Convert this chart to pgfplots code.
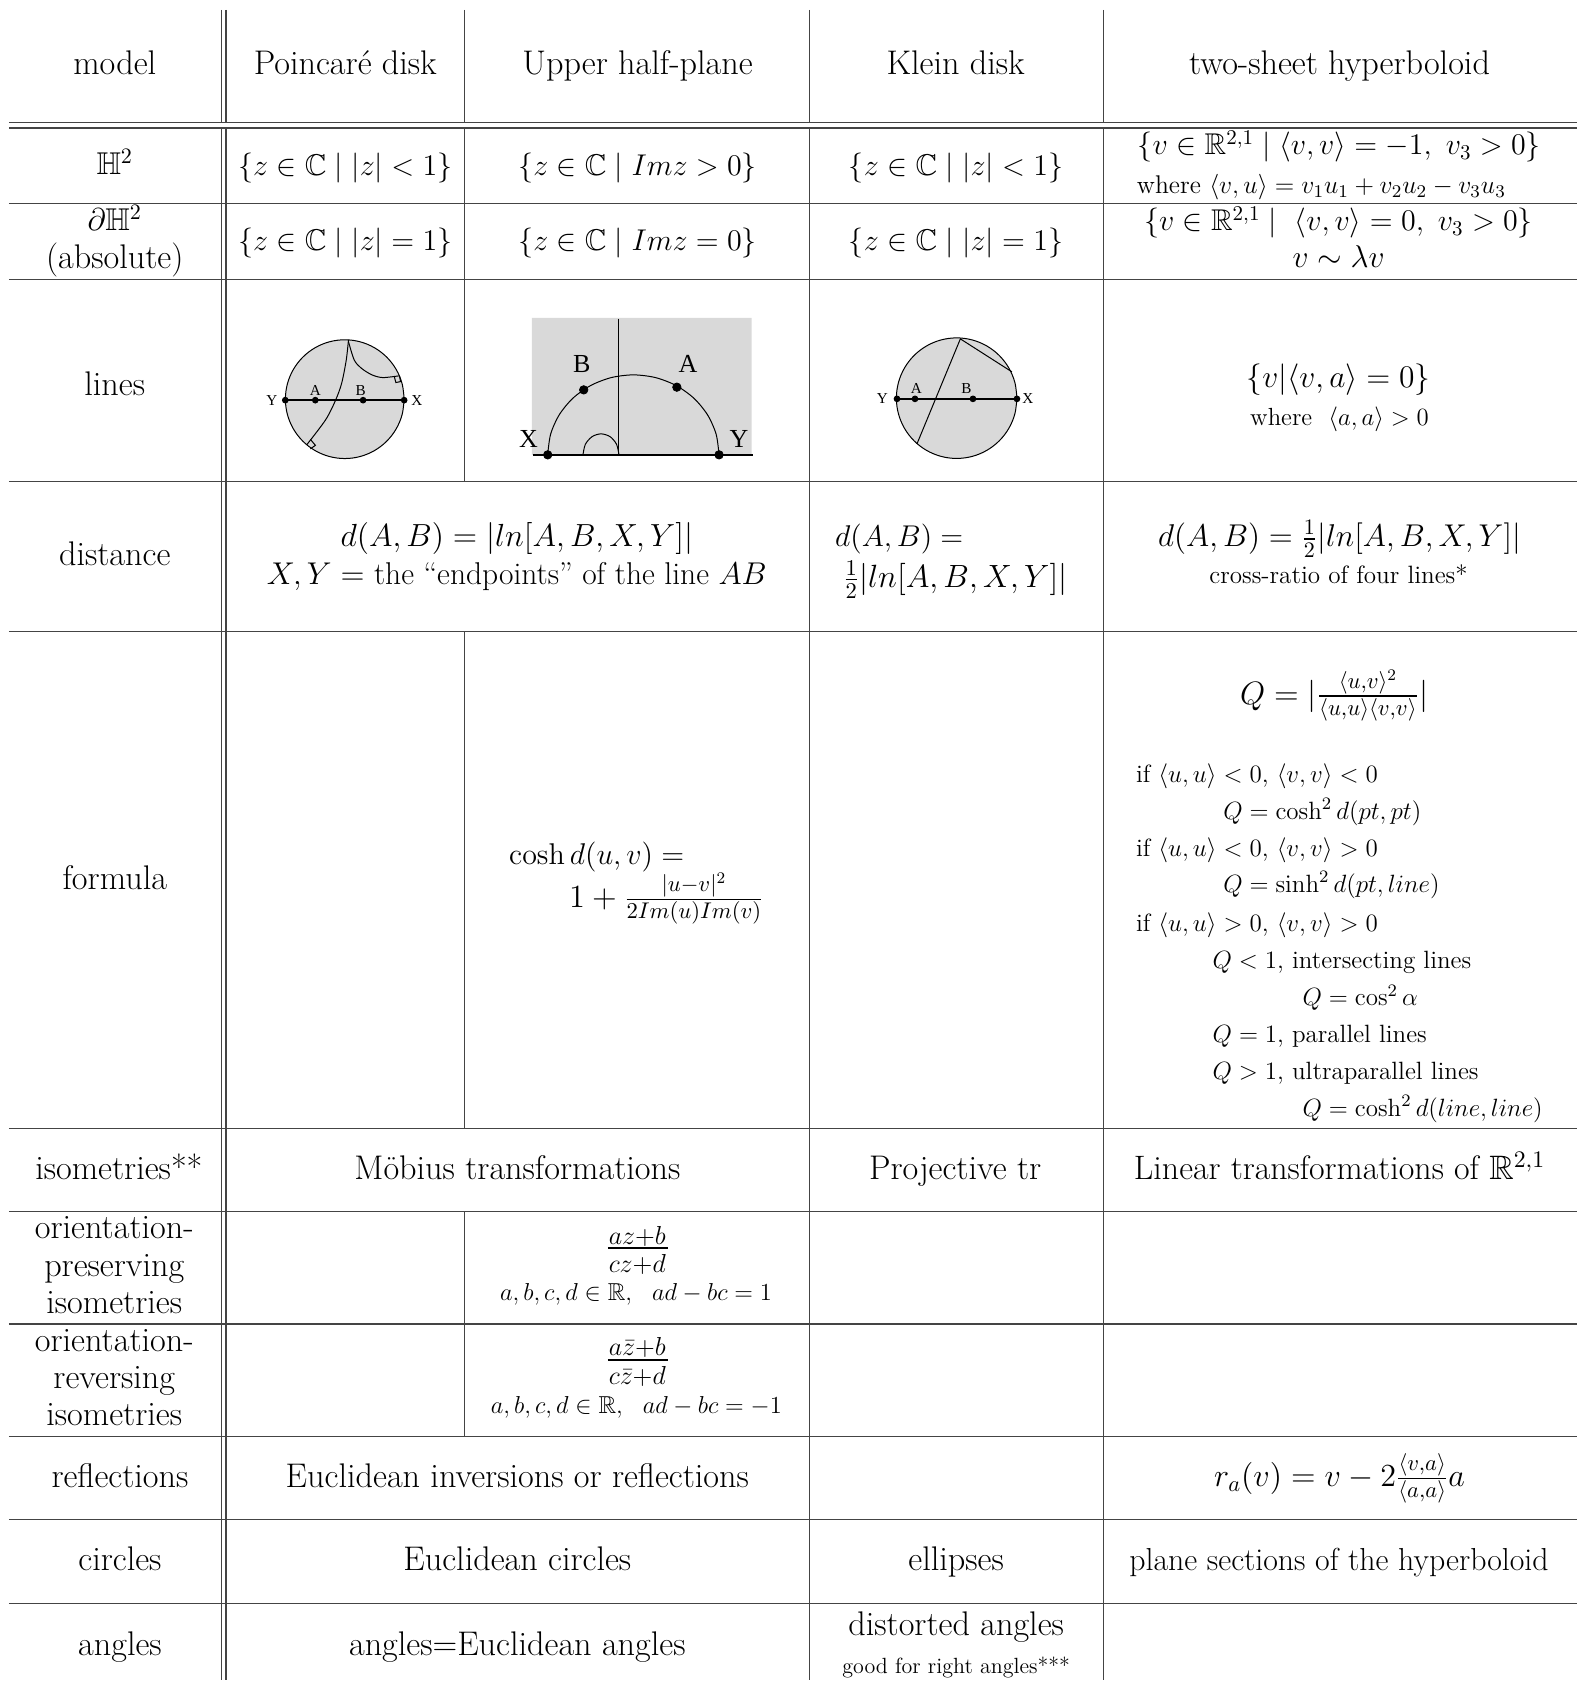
\documentclass[border=0pt]{standalone}
\usepackage{fix-cm}
\usepackage{amsmath,amssymb}
\usepackage[no-math]{fontspec}
\usepackage{pgfplots}
\pgfplotsset{compat=1.18}
\newfontfamily\labfont{Liberation Serif}
\definecolor{diskgray}{HTML}{D9D9D9}
\definecolor{rulecol}{HTML}{444444}
\newcommand{\sz}[1]{\fontsize{#1}{1.2em}\selectfont}
\newcommand{\fm}{\sz{17.1}}
\newcommand{\fx}{\sz{15.75}}
\newcommand{\fa}{\sz{15}}
\newcommand{\fs}{\sz{12.5}}
\newcommand{\ft}{\sz{11}}
\newcommand{\la}{\labfont\sz{7.6}}
\newcommand{\lb}{\labfont\sz{13}}
% centred text at a baseline, and left aligned text
\newcommand{\C}[4][\fm]{\node[anchor=base,inner sep=0pt,yshift=-0.5pt,font=#1] at (axis cs:#2,#3) {#4};}
\newcommand{\Lf}[4][\fs]{\node[anchor=base west,inner sep=0pt,font=#1] at (axis cs:#2,#3) {#4};}
\begin{document}
\begin{tikzpicture}
\begin{axis}[
    width=789pt, height=840.5pt, scale only axis,
    xmin=0, xmax=1578, ymin=0, ymax=1681,
    y dir=reverse, axis lines=none, clip=false,
    unbounded coords=jump,
    rule/.style={rulecol, line width=0.6pt, forget plot},
    thin line/.style={black, line width=0.5pt, forget plot},
]
\addplot[draw=none, forget plot] coordinates {(0,0) (1578,1681)};

% horizontal rules
\addplot[rule] coordinates {
    (9,122.5)(1578,122.5) (0,nan)
    (9,128)(1578,128) (0,nan)
    (9,203.5)(1578,203.5) (0,nan)
    (9,279.3)(1578,279.3) (0,nan)
    (9,481.5)(1578,481.5) (0,nan)
    (9,631.5)(1578,631.5) (0,nan)
    (9,1128.5)(1578,1128.5) (0,nan)
    (9,1212)(1578,1212) (0,nan)
    (9,1324.5)(1578,1324.5) (0,nan)
    (9,1437)(1578,1437) (0,nan)
    (9,1520)(1578,1520) (0,nan)
    (9,1604)(1578,1604)
};
% vertical rules
\addplot[rule] coordinates {
    (221.5,10)(221.5,122.5) (0,nan)
    (226,10)(226,122.5) (0,nan)
    (221.5,128)(221.5,1681) (0,nan)
    (226,128)(226,1681) (0,nan)
    (465,10)(465,122.5) (0,nan)
    (465,128)(465,481.5) (0,nan)
    (465,631.5)(465,1128.5) (0,nan)
    (465,1212)(465,1437) (0,nan)
    (809.5,10)(809.5,122.5) (0,nan)
    (809.5,128)(809.5,1681) (0,nan)
    (1103.5,10)(1103.5,122.5) (0,nan)
    (1103.5,128)(1103.5,1681)
};

% Poincare disk
\addplot[thin line, fill=diskgray, smooth, tension=0.6] coordinates {
    (404.3,399.3)(402.28,414.67)(396.34,429)(386.9,441.3)(374.6,450.74)(360.27,456.68)
    (344.9,458.7)(329.53,456.68)(315.2,450.74)(302.9,441.3)(293.46,429)(287.52,414.67)
    (285.5,399.3)(287.52,383.93)(293.46,369.6)(302.9,357.3)(315.2,347.86)(329.53,341.92)
    (344.9,339.9)(360.27,341.92)(374.6,347.86)(386.9,357.3)(396.34,369.6)(402.28,383.93)
    (404.3,399.3)
};
\addplot[thin line, smooth] coordinates {(348.6,340)(346.4,360)(341.8,383.3)(335.7,400.3)(325.7,420)(306.8,445)};
\addplot[thin line, smooth] coordinates {(348.6,341.7)(354.3,360)(361.4,368.3)(372.1,375)(382.9,377.7)(398.9,376)};
\addplot[thin line] coordinates {(394.6,377.3)(396,382.7)(400.7,381.7)(399.6,376)};
\addplot[thin line] coordinates {(310.5,439.5)(315.5,445.5)(310.5,449)};
\addplot[black, line width=0.7pt, mark=*, mark size=1.3pt, forget plot] coordinates {(285.4,400.3)(315.4,400.3)(363.2,400.3)(404.3,400.3)};
\C[\la]{272}{405}{Y}
\C[\la]{315.5}{394.5}{A}
\C[\la]{360.7}{394.5}{B}
\C[\la]{417}{405}{X}

% upper half-plane
\addplot[draw=none, fill=diskgray, forget plot] coordinates {(532,318)(752,318)(752,455)(532,455)(532,318)};
\addplot[thin line] coordinates {(619.2,319)(619.2,455)};
\addplot[black, line width=0.8pt, forget plot] coordinates {(533.6,455)(753,455)};
\addplot[thin line, smooth] coordinates {
    (547.9,455)(550.82,434.3)(559.4,415)(573,398.43)(590.75,385.72)(611.42,377.73)(633.6,375)
    (655.78,377.73)(676.45,385.72)(694.2,398.43)(707.8,415)(716.38,434.3)(719.3,455)
};
\addplot[thin line, smooth] coordinates {(583.2,455)(585.54,444.5)(592.3,436.8)(601.2,434)(610.3,436.8)(616.8,444.5)(619.2,455)};
\addplot[only marks, mark=*, mark size=2.1pt, black, forget plot] coordinates {(547.9,455)(719.3,455)(583.9,390)(677.1,387.3)};
\C[\lb]{582}{372}{B}
\C[\lb]{688.2}{372}{A}
\C[\lb]{528.6}{447}{X}
\C[\lb]{739.3}{447}{Y}

% Klein disk
\addplot[thin line, fill=diskgray, smooth, tension=0.6] coordinates {
    (1017.3,398.3)(1015.24,413.91)(1009.22,428.45)(999.64,440.94)(987.15,450.52)(972.61,456.54)
    (957,458.6)(941.39,456.54)(926.85,450.52)(914.36,440.94)(904.78,428.45)(898.76,413.91)
    (896.7,398.3)(898.76,382.69)(904.78,368.15)(914.36,355.66)(926.85,346.08)(941.39,340.06)
    (957,338)(972.61,340.06)(987.15,346.08)(999.64,355.66)(1009.22,368.15)(1015.24,382.69)
    (1017.3,398.3)
};
\addplot[thin line] coordinates {(917.3,444)(960.7,339)(1012.3,372)};
\addplot[black, line width=0.7pt, mark=*, mark size=1.3pt, forget plot] coordinates {(897.3,399)(915.3,399)(973.3,399)(1017.3,399)};
\C[\la]{882.7}{403}{Y}
\C[\la]{916.7}{393}{A}
\C[\la]{966.7}{393}{B}
\C[\la]{1028.3}{403}{X}

% header
\C{114.8}{74}{model}
\C{345.4}{74}{Poincar\'e disk}
\C{637.8}{74}{Upper half-plane}
\C{956}{74}{Klein disk}
\C{1340}{74}{two-sheet hyperboloid}

% H^2
\C[\fx]{114.8}{174}{$\mathbb{H}^2$}
\C[\fa]{345.4}{175}{$\{z\in\mathbb{C}\mid |z|<1\}$}
\C[\fa]{637.8}{175}{$\{z\in\mathbb{C}\mid Imz>0\}$}
\C[\fa]{956.3}{175}{$\{z\in\mathbb{C}\mid |z|<1\}$}
\C[\fa]{1339.7}{154}{$\{v\in\mathbb{R}^{2,1}\mid\langle v,v\rangle=-1,\ v_3>0\}$}
\C[\sz{12.8}]{1321.8}{192.7}{where $\langle v,u\rangle=v_1u_1+v_2u_2-v_3u_3$}

% absolute
\C[\fx]{114.8}{230}{$\partial\mathbb{H}^2$}
\C{114.8}{267.7}{(absolute)}
\C[\fa]{345.4}{249.5}{$\{z\in\mathbb{C}\mid |z|=1\}$}
\C[\fa]{637.8}{249.5}{$\{z\in\mathbb{C}\mid Imz=0\}$}
\C[\fa]{956.3}{249.5}{$\{z\in\mathbb{C}\mid |z|=1\}$}
\C[\fa]{1339}{230}{$\{v\in\mathbb{R}^{2,1}\mid\ \langle v,v\rangle=0,\ v_3>0\}$}
\C[\fx]{1339}{266.7}{$v\sim\lambda v$}

% lines
\C{114.8}{395}{lines}
\C[\fx]{1339}{387}{$\{v|\langle v,a\rangle=0\}$}
\C[\sz{12.4}]{1340}{424.6}{where\ \ $\langle a,a\rangle>0$}

% distance
\C{114.8}{565}{distance}
\C[\sz{16}]{517}{546}{$d(A,B)=|ln[A,B,X,Y]|$}
\C[\fx]{517}{584}{$X,Y=$ the ``endpoints'' of the line $AB$}
\Lf[\fa]{835}{547}{$d(A,B)=$}
\Lf[\sz{16.1}]{843}{588}{$\frac{1}{2}|ln[A,B,X,Y]|$}
\C[\fx]{1340}{546}{$d(A,B)=\frac{1}{2}|ln[A,B,X,Y]|$}
\C[\sz{12.55}]{1339}{583}{cross-ratio of four lines*}

% formula
\C{114.8}{888.7}{formula}
\Lf[\fa]{509}{865}{$\cosh d(u,v)=$}
\Lf[\sz{16.2}]{569}{908}{$1+\frac{|u-v|^2}{2Im(u)Im(v)}$}
\C[\sz{16.2}]{1334.5}{703.4}{$Q=|\frac{\langle u,v\rangle^2}{\langle u,u\rangle\langle v,v\rangle}|$}
\Lf{1136}{782.7}{if $\langle u,u\rangle<0$, $\langle v,v\rangle<0$}
\Lf{1223.3}{820}{$Q=\cosh^2 d(pt,pt)$}
\Lf{1136}{856.7}{if $\langle u,u\rangle<0$, $\langle v,v\rangle>0$}
\Lf{1223.3}{893.3}{$Q=\sinh^2 d(pt,line)$}
\Lf{1136}{931.7}{if $\langle u,u\rangle>0$, $\langle v,v\rangle>0$}
\Lf{1212.7}{969}{$Q<1$, intersecting lines}
\Lf{1302.7}{1005.7}{$Q=\cos^2\alpha$}
\Lf{1212.7}{1042.7}{$Q=1$, parallel lines}
\Lf{1212.7}{1080}{$Q>1$, ultraparallel lines}
\Lf{1302.7}{1117.3}{$Q=\cosh^2 d(line,line)$}

% isometries
\C{118.9}{1179.3}{isometries**}
\C{517.6}{1179.3}{M\"obius transformations}
\C{955.5}{1179.3}{Projective tr}
\C[\sz{16.95}]{1340}{1179.3}{Linear transformations of $\mathbb{R}^{2,1}$}

% orientation
\C{114.3}{1238.3}{orientation-}
\C{114.3}{1276}{preserving}
\C{114.3}{1312.7}{isometries}
\C[\sz{13}]{637.5}{1243.5}{$az{+}b$}
\addplot[black, line width=0.9pt, forget plot] coordinates {(608,1248.7)(668,1248.7)};
\C[\sz{13}]{637.5}{1271.5}{$cz{+}d$}
\C[\sz{12.25}]{636.2}{1299.5}{$a,b,c,d\in\mathbb{R},\ \ ad-bc=1$}
\C{114.3}{1350.7}{orientation-}
\C{114.3}{1388.3}{reversing}
\C{114.3}{1425}{isometries}
\C[\sz{13}]{637.5}{1355}{$a\bar z{+}b$}
\addplot[black, line width=0.9pt, forget plot] coordinates {(608,1360.7)(668,1360.7)};
\C[\sz{13}]{637.5}{1383.5}{$c\bar z{+}d$}
\C[\sz{12.25}]{636.5}{1412.7}{$a,b,c,d\in\mathbb{R},\ \ ad-bc=-1$}

% reflections, circles, angles
\C{120}{1487}{reflections}
\C{517.5}{1487}{Euclidean inversions or reflections}
\C[\sz{16.1}]{1340}{1486}{$r_a(v)=v-2\frac{\langle v,a\rangle}{\langle a,a\rangle}a$}
\C{120}{1570.5}{circles}
\C{517.5}{1570.5}{Euclidean circles}
\C{956.5}{1570.5}{ellipses}
\C[\sz{15.9}]{1339.5}{1570.5}{plane sections of the hyperboloid}
\C{120}{1655}{angles}
\C{517.5}{1655}{angles=Euclidean angles}
\C{956.5}{1635}{distorted angles}
\C[\ft]{956.5}{1673}{good for right angles***}
\end{axis}
\end{tikzpicture}
\end{document}
